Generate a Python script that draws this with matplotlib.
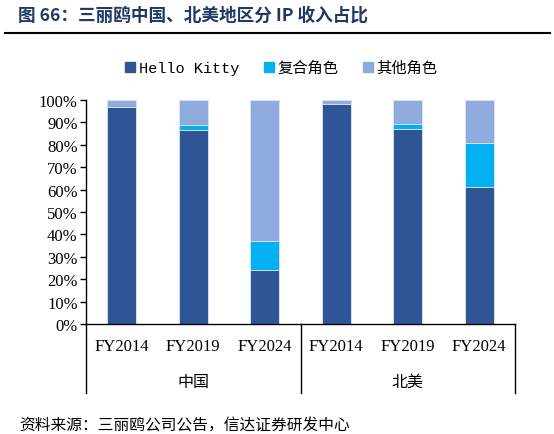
import numpy as np
import matplotlib.pyplot as plt
from matplotlib.lines import Line2D

plt.rcParams['font.family'] = ['Liberation Serif', 'Noto Sans CJK SC', 'DejaVu Sans']

# data (shares, %)
years = ["FY2014", "FY2019", "FY2024", "FY2014", "FY2019", "FY2024"]
regions = ["中国", "北美"]
hello_kitty = [97.0, 86.7, 24.1, 98.4, 87.0, 61.3]
composite = [0.0, 2.3, 13.1, 0.0, 2.4, 19.6]
others = [3.0, 11.0, 62.8, 1.6, 10.6, 19.1]
series_names = ["Hello Kitty", "复合角色", "其他角色"]
colors = ["#2F5597", "#00B0F0", "#8FAADC"]

fig = plt.figure(figsize=(5.54, 4.35), dpi=100)
ax = fig.add_axes([86 / 554, 1 - 325 / 435, 429 / 554, 224 / 435])

x = np.arange(len(years))
bottom = np.zeros(len(years))
for vals, name, c in zip([hello_kitty, composite, others], series_names, colors):
    ax.bar(x, vals, width=0.4, bottom=bottom, color=c, edgecolor="#dce6f2", linewidth=0.6, label=name)
    bottom += np.array(vals)

ax.set_xlim(-0.5, len(years) - 0.5)
ax.set_ylim(0, 100)
ax.set_yticks(np.arange(0, 101, 10))
ax.set_yticklabels([f"{v}%" for v in range(0, 101, 10)])
ax.tick_params(axis="y", direction="out", length=4, width=1, pad=2)
for lbl in ax.get_yticklabels():
    lbl.set_fontfamily("Liberation Serif")
    lbl.set_fontsize(12)
ax.set_xticks([])
for s in ["top", "right"]:
    ax.spines[s].set_visible(False)
ax.spines["left"].set_linewidth(1)
ax.spines["bottom"].set_linewidth(1)

# category labels and group lines under the axis
trans = ax.get_xaxis_transform()
for i, yr in enumerate(years):
    ax.text(i, -0.1, yr, transform=trans, ha="center", va="center",
            fontsize=12, family="Liberation Serif")
for xb in [-0.5, 2.5, 5.5]:
    ax.plot([xb, xb], [0, -0.31], transform=trans, color="black", lw=1, clip_on=False)
for g, name in enumerate(regions):
    ax.text(g * 3 + 1, -0.255, name, transform=trans, ha="center", va="center",
            fontsize=11.5, family=["Noto Sans CJK SC"])

# legend
handles = [Line2D([], [], marker="s", ls="", color=c, markersize=7) for c in colors]
fig.legend(handles, series_names, loc="center", bbox_to_anchor=(280 / 554, 1 - 69 / 435),
           ncol=3, frameon=False, handletextpad=0.05, columnspacing=1.45, handlelength=1.0,
           prop={"family": ["Liberation Mono", "Noto Sans CJK SC"], "size": 11})

# title and rule
fig.text(18 / 554, 1 - 16 / 435, "图 66：三丽鸥中国、北美地区分 IP 收入占比", ha="left", va="center",
         fontsize=12.7, fontweight="bold", color="#1F3864", family=["Noto Sans CJK SC"])
fig.add_artist(Line2D([5 / 554, 550 / 554], [1 - 34 / 435, 1 - 34 / 435], color="black", lw=1.5))

fig.text(19 / 554, 1 - 426 / 435, "资料来源：三丽鸥公司公告，信达证券研发中心", ha="left", va="center",
         fontsize=11.3, style="italic", family=["Noto Sans CJK SC"])

fig.savefig("out.png", dpi=100)
